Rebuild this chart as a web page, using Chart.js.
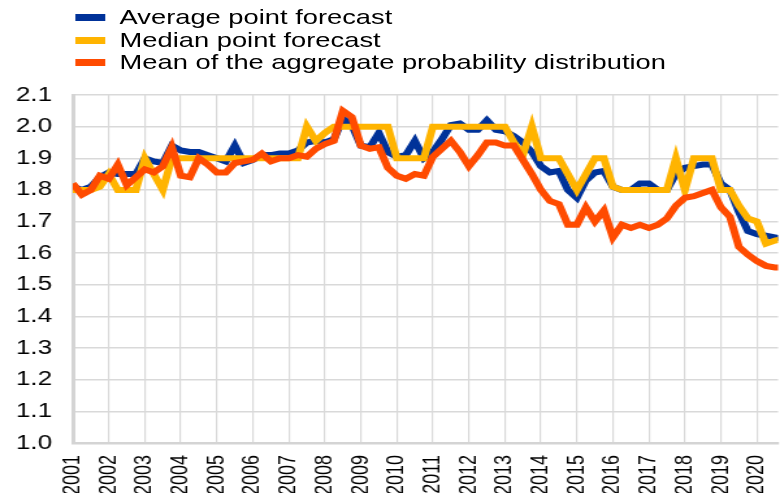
<!DOCTYPE html>
<html>
<head>
<meta charset="utf-8">
<style>
  html, body { margin: 0; padding: 0; background: #fff; overflow: hidden; }
  /* the reference is stretched sideways, so the whole chart is drawn narrow and scaled */
  #stage { position: absolute; left: 0; top: 0; width: 600px; height: 493px;
           transform: scaleX(1.3); transform-origin: 0 0; }
  #chart { position: absolute; left: 0; top: 0; }
  .legend-row { position: absolute; left: 0; height: 22px; white-space: nowrap;
                font: 21px "Liberation Sans", Arial, sans-serif; color: #000; }
  .legend-row .mark { position: absolute; left: 58px; top: 8px; width: 23px; height: 7px; }
  .legend-row .txt { position: absolute; left: 92px; top: 0; line-height: 22px; }
</style>
<script src="https://cdn.jsdelivr.net/npm/chart.js@4"></script>
</head>
<body>
<div id="stage">
  <canvas id="chart" width="600" height="493"></canvas>
  <div id="legend"></div>
</div>
<script>
const FONT = '"Liberation Sans", Arial, sans-serif';

// x axis: one tick per year, data is quarterly (2001Q1 .. 2020Q4)
const years = ['2001', '2002', '2003', '2004', '2005', '2006', '2007', '2008', '2009', '2010',
               '2011', '2012', '2013', '2014', '2015', '2016', '2017', '2018', '2019', '2020'];

const seriesNames = ['Average point forecast', 'Median point forecast',
                     'Mean of the aggregate probability distribution'];

const avgPoint = [
    1.81, 1.80, 1.81, 1.84, 1.855, 1.85, 1.85, 1.85,
    1.90, 1.89, 1.885, 1.94, 1.925, 1.92, 1.92, 1.91,
    1.90, 1.89, 1.94, 1.885, 1.895, 1.91, 1.91, 1.915,
    1.915, 1.925, 1.95, 1.955, 1.95, 1.96, 2.025, 2.005,
    1.94, 1.935, 1.98, 1.92, 1.905, 1.91, 1.955, 1.90,
    1.92, 1.96, 2.005, 2.01, 1.99, 1.99, 2.02, 1.99,
    1.985, 1.97, 1.95, 1.92, 1.875, 1.855, 1.86, 1.80,
    1.775, 1.83, 1.855, 1.86, 1.81, 1.80, 1.80, 1.82,
    1.82, 1.80, 1.80, 1.85, 1.87, 1.875, 1.88, 1.88,
    1.82, 1.80, 1.73, 1.67, 1.66, 1.655, 1.65, 1.645
];

const medianPoint = [
    1.80, 1.80, 1.80, 1.81, 1.85, 1.80, 1.80, 1.80,
    1.90, 1.85, 1.80, 1.90, 1.90, 1.90, 1.90, 1.90,
    1.90, 1.90, 1.90, 1.90, 1.90, 1.90, 1.90, 1.90,
    1.90, 1.90, 2.00, 1.955, 1.98, 2.00, 2.00, 2.00,
    2.00, 2.00, 2.00, 2.00, 1.90, 1.90, 1.90, 1.90,
    2.00, 2.00, 2.00, 2.00, 2.00, 2.00, 2.00, 2.00,
    2.00, 1.95, 1.91, 2.00, 1.90, 1.90, 1.90, 1.85,
    1.80, 1.85, 1.90, 1.90, 1.81, 1.80, 1.80, 1.80,
    1.80, 1.80, 1.80, 1.90, 1.80, 1.90, 1.90, 1.90,
    1.80, 1.80, 1.75, 1.71, 1.70, 1.63, 1.64, 1.645
];

const meanAggregate = [
    1.82, 1.785, 1.80, 1.845, 1.835, 1.88, 1.815, 1.84,
    1.865, 1.855, 1.875, 1.935, 1.845, 1.84, 1.90, 1.88,
    1.855, 1.855, 1.885, 1.89, 1.895, 1.915, 1.89, 1.90,
    1.90, 1.91, 1.905, 1.93, 1.945, 1.955, 2.05, 2.03,
    1.94, 1.93, 1.935, 1.87, 1.845, 1.835, 1.85, 1.845,
    1.905, 1.93, 1.955, 1.92, 1.875, 1.91, 1.95, 1.95,
    1.94, 1.94, 1.895, 1.85, 1.80, 1.765, 1.755, 1.69,
    1.69, 1.745, 1.70, 1.735, 1.65, 1.69, 1.68, 1.69,
    1.68, 1.69, 1.71, 1.75, 1.775, 1.78, 1.79, 1.80,
    1.745, 1.715, 1.62, 1.595, 1.575, 1.56, 1.555, 1.555
];

const colors = ['#003299', '#ffb400', '#ff4b00'];

function toPoints(values) {
    return values.map((v, i) => ({ x: i, y: v }));
}

// legend (one row per series)
const legend = document.getElementById('legend');
seriesNames.forEach((name, k) => {
    const row = document.createElement('div');
    row.className = 'legend-row';
    row.style.top = (6 + k * 22.5) + 'px';
    row.innerHTML = `<span class="mark" style="background:${colors[k]}"></span><span class="txt">${name}</span>`;
    legend.appendChild(row);
});

const ctx = document.getElementById('chart').getContext('2d');
const series = [avgPoint, medianPoint, meanAggregate];

new Chart(ctx, {
    type: 'line',
    data: {
        datasets: series.map((values, k) => ({
            label: seriesNames[k],
            data: toPoints(values),
            borderColor: colors[k],
            backgroundColor: colors[k],
            borderWidth: 6,
            pointRadius: 0,
            tension: 0,
            clip: 0,
            order: 3 - k // orange on top, blue at the bottom
        }))
    },
    options: {
        responsive: false,
        animation: false,
        layout: { padding: { top: 95, right: 1.5, left: 0, bottom: 0 } },
        plugins: {
            legend: { display: false },
            tooltip: { enabled: false }
        },
        scales: {
            x: {
                type: 'linear',
                min: 0,
                max: 78.35,
                afterBuildTicks: (axis) => {
                    axis.ticks = years.map((y, k) => ({ value: k * 4 }));
                },
                afterFit: (axis) => {
                    axis.height = 50;
                    axis.paddingLeft = 0;
                    axis.paddingRight = 0;
                },
                ticks: {
                    autoSkip: false,
                    minRotation: 90,
                    maxRotation: 90,
                    padding: 12,
                    color: '#000',
                    font: { family: FONT, size: 18 },
                    callback: (v) => years[Math.round(v / 4)]
                },
                grid: { color: '#d9d9d9', lineWidth: 1.2, drawTicks: false },
                border: { color: '#d4d4d4', width: 2.5 }
            },
            y: {
                min: 1.0,
                max: 2.1,
                afterFit: (axis) => { axis.width = 56; },
                ticks: {
                    stepSize: 0.1,
                    padding: 16,
                    color: '#000',
                    font: { family: FONT, size: 20 },
                    callback: (v) => v.toFixed(1)
                },
                grid: { color: '#d9d9d9', lineWidth: 1.5, drawTicks: false },
                border: { color: '#d4d4d4', width: 3 }
            }
        }
    }
});
</script>
</body>
</html>
